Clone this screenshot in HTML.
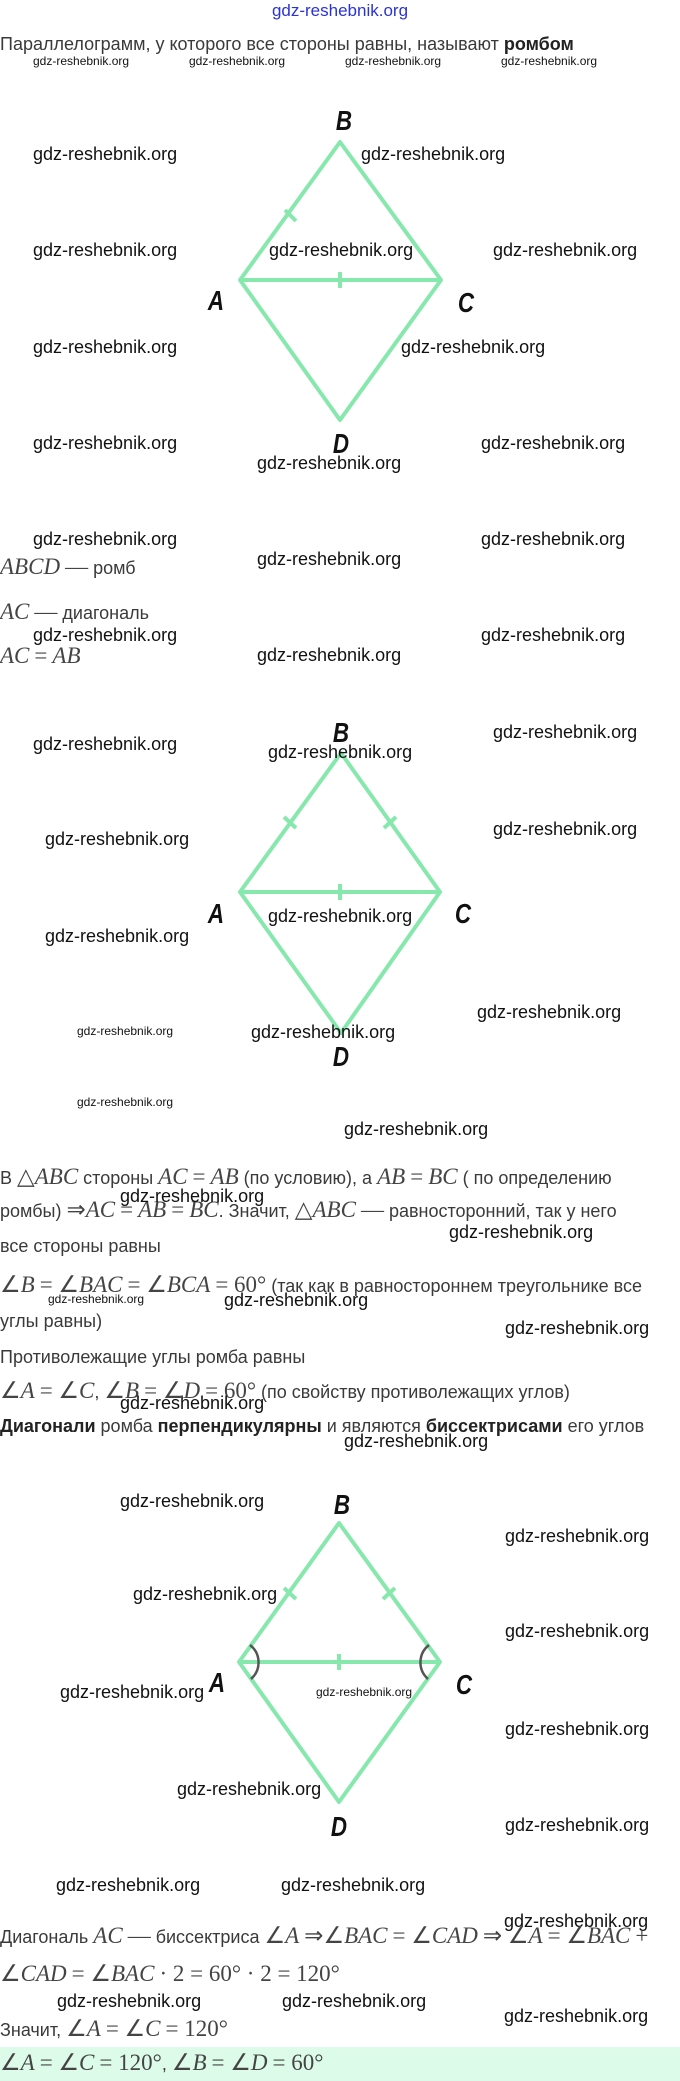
<!DOCTYPE html>
<html><head><meta charset="utf-8"><style>
body{margin:0;width:680px;height:2081px;position:relative;background:#fff;overflow:hidden;font-family:"Liberation Sans",sans-serif;}
.t{position:absolute;left:0;white-space:nowrap;font-size:18px;color:#3a3a3a;line-height:24px;}
.m{font-family:"Liberation Serif",serif;font-style:italic;font-size:23px;color:#444;}
.n{font-family:"Liberation Serif",serif;font-size:23px;color:#444;}
.w{position:absolute;white-space:nowrap;font-family:"Liberation Sans Narrow","Liberation Sans",sans-serif;font-size:18px;color:#111;line-height:20px;}
.s{font-size:12px;line-height:14px;}
.L{position:absolute;font-family:"Liberation Sans",sans-serif;font-weight:bold;font-style:italic;font-size:28px;color:#111;line-height:28px;transform:translate(-50%,-50%) scaleX(0.8);}
b{color:#222}
svg{position:absolute;left:0;top:0}
</style></head><body>
<div class="w" style="left:0;width:680px;text-align:center;top:1px;color:#2a33d6;font-size:17px">gdz-reshebnik.org</div>
<div class="t" style="top:32px">Параллелограмм, у которого все стороны равны, называют <b>ромбом</b></div>
<div class="w s" style="left:33px;top:54px">gdz-reshebnik.org</div>
<div class="w s" style="left:189px;top:54px">gdz-reshebnik.org</div>
<div class="w s" style="left:345px;top:54px">gdz-reshebnik.org</div>
<div class="w s" style="left:501px;top:54px">gdz-reshebnik.org</div>

<svg width="680" height="2081">
<g stroke="#86e8ac" stroke-width="4" fill="none" stroke-linejoin="round">
<path d="M240 280 L340 142 L441 280 L340 420 Z M240 280 L441 280"/>
<path d="M285 210 L296 221 M340 272 L340 288"/>
<path d="M240 892 L341 753 L440 892 L341 1033 Z M240 892 L440 892"/>
<path d="M284 817 L296 828 M396 817 L384 828 M340 884 L340 900"/>
<path d="M239 1662 L339 1523 L440 1662 L339 1802 Z M239 1662 L440 1662"/>
<path d="M284 1588 L296 1599 M395 1588 L383 1599 M339 1654 L339 1670"/>
</g>
<g stroke="#555" stroke-width="2.5" fill="none">
<path d="M250 1645 A22 22 0 0 1 251 1679"/>
<path d="M429 1645 A22 22 0 0 0 428 1679"/>
</g>
</svg>

<div class="L" style="left:344px;top:121px">B</div>
<div class="L" style="left:216px;top:301px">A</div>
<div class="L" style="left:466px;top:303px">C</div>
<div class="L" style="left:341px;top:444px">D</div>

<div class="w" style="left:33px;top:144px">gdz-reshebnik.org</div>
<div class="w" style="left:361px;top:144px">gdz-reshebnik.org</div>
<div class="w" style="left:33px;top:240px">gdz-reshebnik.org</div>
<div class="w" style="left:269px;top:240px">gdz-reshebnik.org</div>
<div class="w" style="left:493px;top:240px">gdz-reshebnik.org</div>
<div class="w" style="left:33px;top:337px">gdz-reshebnik.org</div>
<div class="w" style="left:401px;top:337px">gdz-reshebnik.org</div>
<div class="w" style="left:33px;top:433px">gdz-reshebnik.org</div>
<div class="w" style="left:481px;top:433px">gdz-reshebnik.org</div>
<div class="w" style="left:257px;top:453px">gdz-reshebnik.org</div>
<div class="w" style="left:33px;top:529px">gdz-reshebnik.org</div>
<div class="w" style="left:481px;top:529px">gdz-reshebnik.org</div>
<div class="w" style="left:257px;top:549px">gdz-reshebnik.org</div>
<div class="w" style="left:33px;top:625px">gdz-reshebnik.org</div>
<div class="w" style="left:481px;top:625px">gdz-reshebnik.org</div>
<div class="w" style="left:257px;top:645px">gdz-reshebnik.org</div>

<div class="t" style="top:555px"><span class="m">ABCD</span> <span class="n">—</span> ромб</div>
<div class="t" style="top:600px"><span class="m">AC</span> <span class="n">—</span> диагональ</div>
<div class="t" style="top:644px"><span class="m">AC</span> <span class="n">=</span> <span class="m">AB</span></div>

<div class="L" style="left:341px;top:733px">B</div>
<div class="L" style="left:216px;top:914px">A</div>
<div class="L" style="left:463px;top:914px">C</div>
<div class="L" style="left:341px;top:1057px">D</div>

<div class="w" style="left:33px;top:734px">gdz-reshebnik.org</div>
<div class="w" style="left:268px;top:742px">gdz-reshebnik.org</div>
<div class="w" style="left:493px;top:722px">gdz-reshebnik.org</div>
<div class="w" style="left:45px;top:829px">gdz-reshebnik.org</div>
<div class="w" style="left:493px;top:819px">gdz-reshebnik.org</div>
<div class="w" style="left:268px;top:906px">gdz-reshebnik.org</div>
<div class="w" style="left:45px;top:926px">gdz-reshebnik.org</div>
<div class="w s" style="left:77px;top:1024px">gdz-reshebnik.org</div>
<div class="w" style="left:251px;top:1022px">gdz-reshebnik.org</div>
<div class="w" style="left:477px;top:1002px">gdz-reshebnik.org</div>
<div class="w s" style="left:77px;top:1095px">gdz-reshebnik.org</div>
<div class="w" style="left:344px;top:1119px">gdz-reshebnik.org</div>

<div class="t" style="top:1165px">В <span class="n">△</span><span class="m">ABC</span> стороны <span class="m">AC</span> <span class="n">=</span> <span class="m">AB</span> (по условию), а <span class="m">AB</span> <span class="n">=</span> <span class="m">BC</span> ( по определению</div>
<div class="t" style="top:1198px">ромбы) <span class="n">⇒</span><span class="m">AC</span> <span class="n">=</span> <span class="m">AB</span> <span class="n">=</span> <span class="m">BC</span>. Значит, <span class="n">△</span><span class="m">ABC</span> <span class="n">—</span> равносторонний, так у него</div>
<div class="t" style="top:1234px">все стороны равны</div>
<div class="t" style="top:1273px"><span class="n">∠</span><span class="m">B</span> <span class="n">= ∠</span><span class="m">BAC</span> <span class="n">= ∠</span><span class="m">BCA</span> <span class="n">= 60°</span> (так как в равностороннем треугольнике все</div>
<div class="t" style="top:1309px">углы равны)</div>
<div class="t" style="top:1345px">Противолежащие углы ромба равны</div>
<div class="t" style="top:1379px"><span class="n">∠</span><span class="m">A</span> <span class="n">= ∠</span><span class="m">C</span>, <span class="n">∠</span><span class="m">B</span> <span class="n">= ∠</span><span class="m">D</span> <span class="n">= 60°</span> (по свойству противолежащих углов)</div>
<div class="t" style="top:1414px"><b>Диагонали</b> ромба <b>перпендикулярны</b> и являются <b>биссектрисами</b> его углов</div>

<div class="w" style="left:120px;top:1186px">gdz-reshebnik.org</div>
<div class="w" style="left:449px;top:1222px">gdz-reshebnik.org</div>
<div class="w s" style="left:48px;top:1292px">gdz-reshebnik.org</div>
<div class="w" style="left:224px;top:1290px">gdz-reshebnik.org</div>
<div class="w" style="left:505px;top:1318px">gdz-reshebnik.org</div>
<div class="w" style="left:120px;top:1393px">gdz-reshebnik.org</div>
<div class="w" style="left:344px;top:1431px">gdz-reshebnik.org</div>

<div class="L" style="left:342px;top:1505px">B</div>
<div class="L" style="left:217px;top:1683px">A</div>
<div class="L" style="left:464px;top:1685px">C</div>
<div class="L" style="left:339px;top:1827px">D</div>

<div class="w" style="left:120px;top:1491px">gdz-reshebnik.org</div>
<div class="w" style="left:505px;top:1526px">gdz-reshebnik.org</div>
<div class="w" style="left:133px;top:1584px">gdz-reshebnik.org</div>
<div class="w" style="left:505px;top:1621px">gdz-reshebnik.org</div>
<div class="w" style="left:60px;top:1682px">gdz-reshebnik.org</div>
<div class="w s" style="left:316px;top:1685px">gdz-reshebnik.org</div>
<div class="w" style="left:505px;top:1719px">gdz-reshebnik.org</div>
<div class="w" style="left:177px;top:1779px">gdz-reshebnik.org</div>
<div class="w" style="left:505px;top:1815px">gdz-reshebnik.org</div>
<div class="w" style="left:56px;top:1875px">gdz-reshebnik.org</div>
<div class="w" style="left:281px;top:1875px">gdz-reshebnik.org</div>
<div class="w" style="left:504px;top:1911px">gdz-reshebnik.org</div>

<div class="t" style="top:1924px">Диагональ <span class="m">AC</span> <span class="n">—</span> биссектриса <span class="n">∠</span><span class="m">A</span> <span class="n">⇒∠</span><span class="m">BAC</span> <span class="n">= ∠</span><span class="m">CAD</span> <span class="n">⇒ ∠</span><span class="m">A</span> <span class="n">= ∠</span><span class="m">BAC</span> <span class="n">+</span></div>
<div class="t" style="top:1962px"><span class="n">∠</span><span class="m">CAD</span> <span class="n">= ∠</span><span class="m">BAC</span> <span class="n">· 2 = 60° · 2 = 120°</span></div>
<div class="w" style="left:57px;top:1991px">gdz-reshebnik.org</div>
<div class="w" style="left:282px;top:1991px">gdz-reshebnik.org</div>
<div class="w" style="left:504px;top:2006px">gdz-reshebnik.org</div>
<div class="t" style="top:2017px">Значит, <span class="n">∠</span><span class="m">A</span> <span class="n">= ∠</span><span class="m">C</span> <span class="n">= 120°</span></div>
<div style="position:absolute;left:0;top:2047px;width:680px;height:34px;background:#dcfbe9"></div>
<div class="t" style="top:2051px"><span class="n">∠</span><span class="m">A</span> <span class="n">= ∠</span><span class="m">C</span> <span class="n">= 120°</span>, <span class="n">∠</span><span class="m">B</span> <span class="n">= ∠</span><span class="m">D</span> <span class="n">= 60°</span></div>
</body></html>
